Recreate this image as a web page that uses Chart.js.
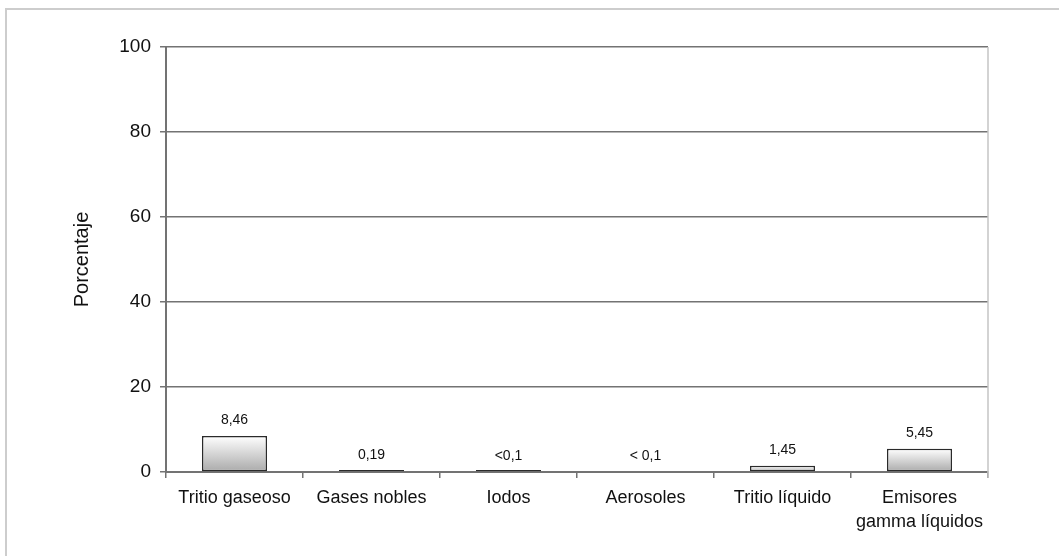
<!DOCTYPE html>
<html>
<head>
<meta charset="utf-8">
<script src="https://cdn.jsdelivr.net/npm/chart.js@4"></script>
<style>
  html, body { margin: 0; padding: 0; background: #fff; overflow: hidden; }
  #frame { position: absolute; left: 5px; top: 8px; width: 1200px; height: 700px;
           border: 2px solid #cdcdcd; box-sizing: border-box; }
  #wrap { position: absolute; left: 0; top: 0; width: 1059px; height: 556px; }
</style>
</head>
<body>
<div id="frame"></div>
<div id="wrap"><canvas id="chart-emisiones"></canvas></div>
<script>
// Porcentaje por tipo de efluente, barras con degradado y etiqueta de valor encima.
var categorias = ["Tritio gaseoso", "Gases nobles", "Iodos", "Aerosoles", "Tritio líquido", ["Emisores", "gamma líquidos"]];
var porcentajes = [8.46, 0.19, 0.08, null, 1.45, 5.45];
var etiquetas = ["8,46", "0,19", "<0,1", "< 0,1", "1,45", "5,45"];
var ticksY = [0, 20, 40, 60, 80, 100];

(function () {
  var INK = "#111";
  var GRID = "#737373";
  var FONT = "'Liberation Sans', Arial, sans-serif";
  Chart.defaults.font.family = FONT;
  Chart.defaults.color = INK;
  Chart.defaults.animation = false;

  // degradado vertical por barra: blanco arriba, gris abajo
  function barFill(ctx) {
    var chart = ctx.chart;
    var y = chart.scales.y;
    if (!chart.chartArea || !y || ctx.raw == null) return "#ccc";
    var top = y.getPixelForValue(ctx.raw);
    var bottom = y.getPixelForValue(0);
    if (bottom - top < 1) top = bottom - 1;
    var g = chart.ctx.createLinearGradient(0, top, 0, bottom);
    g.addColorStop(0, "#ffffff");
    g.addColorStop(1, "#a9a9a9");
    return g;
  }

  var valueLabels = {
    id: "valueLabels",
    afterDatasetsDraw: function (chart) {
      var c = chart.ctx;
      var x = chart.scales.x, y = chart.scales.y;
      c.save();
      c.font = "14px " + FONT;
      c.fillStyle = INK;
      c.textAlign = "center";
      c.textBaseline = "middle";
      etiquetas.forEach(function (t, i) {
        var v = porcentajes[i] || 0;
        c.fillText(t, x.getPixelForValue(i), y.getPixelForValue(v) - 16);
      });
      c.restore();
    }
  };

  // borde derecho del área de trazado, gris claro
  var rightEdge = {
    id: "rightEdge",
    beforeDatasetsDraw: function (chart) {
      var a = chart.chartArea, c = chart.ctx;
      c.save();
      c.strokeStyle = "#c4c4c4";
      c.lineWidth = 1.5;
      c.beginPath();
      c.moveTo(a.right, a.top);
      c.lineTo(a.right, a.bottom + 6);
      c.stroke();
      c.restore();
    }
  };

  new Chart(document.getElementById("chart-emisiones"), {
    type: "bar",
    data: {
      labels: categorias,
      datasets: [{
        data: porcentajes,
        backgroundColor: barFill,
        borderColor: "#2a2a2a",
        borderWidth: 1.5,
        borderSkipped: false,
        minBarLength: 2,
        barPercentage: 0.475,
        categoryPercentage: 1
      }]
    },
    options: {
      responsive: true,
      maintainAspectRatio: false,
      layout: { padding: { top: 47, right: 71, bottom: 0, left: 0 } },
      plugins: { legend: { display: false }, tooltip: { enabled: false } },
      scales: {
        x: {
          offset: true,
          grid: { offset: true, drawOnChartArea: false, color: GRID, tickLength: 6, lineWidth: 1.5 },
          border: { color: GRID, width: 2 },
          ticks: { font: { size: 18, lineHeight: 1.33 }, color: INK, padding: 8, maxRotation: 0, autoSkip: false },
          afterFit: function (s) { s.height = 84; }
        },
        y: {
          min: 0,
          max: 100,
          afterBuildTicks: function (s) { s.ticks = ticksY.map(function (v) { return { value: v }; }); },
          grid: { color: GRID, tickLength: 6, lineWidth: 1.5 },
          border: { color: GRID, width: 2 },
          ticks: { font: { size: 19 }, color: INK, padding: 9 },
          title: { display: true, text: "Porcentaje", font: { size: 20 }, color: INK, padding: { top: 70, bottom: 0 } },
          afterFit: function (s) { s.width = 166; }
        }
      }
    },
    plugins: [rightEdge, valueLabels]
  });
})();
</script>
</body>
</html>
